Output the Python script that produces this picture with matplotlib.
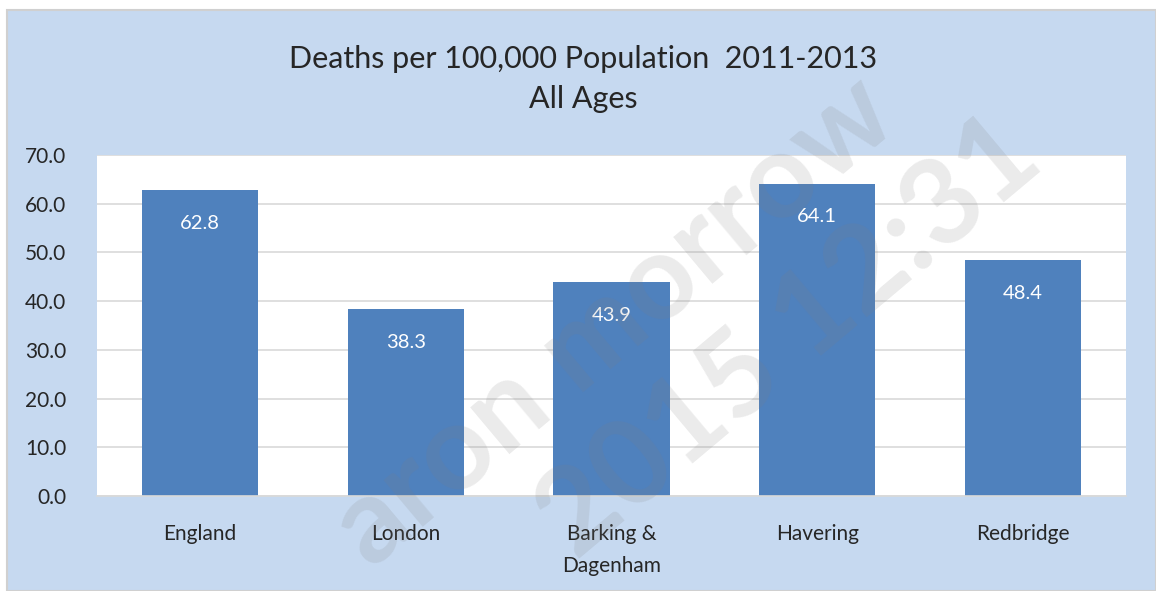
import matplotlib
matplotlib.use("Agg")
import matplotlib.pyplot as plt
from matplotlib.patches import Rectangle

# Data
areas = ["England", "London", "Barking &\nDagenham", "Havering", "Redbridge"]
deaths = [62.8, 38.3, 43.9, 64.1, 48.4]
yticks = [0, 10, 20, 30, 40, 50, 60, 70]

title = "Deaths per 100,000 Population  2011-2013\nAll Ages"

plt.rcParams["font.family"] = ["Lato", "DejaVu Sans"]

W, H = 1156, 591
fig = plt.figure(figsize=(W / 100, H / 100), dpi=100)
fig.patch.set_facecolor("white")

# chart area background
fig.patches.append(Rectangle((7 / W, 0), 1 - 7 / W, (H - 10) / H,
                             transform=fig.transFigure, facecolor="#C6D9F0",
                             edgecolor="#D0D0D0", lw=1.5, zorder=-10))

ax = fig.add_axes([97 / W, 1 - 496 / H, (1126 - 97) / W, (496 - 155) / H])
ax.set_facecolor("white")

x = range(len(areas))
bars = ax.bar(x, deaths, width=0.565, color="#4F81BD", zorder=2)
ax.bar_label(bars, fmt="%.1f", padding=-30, color="white", fontsize=14.5)

ax.set_ylim(0, 70)
ax.set_xlim(-0.5, len(areas) - 0.5)
ax.set_yticks(yticks)
ax.set_yticklabels([f"{v:.1f}" for v in yticks])
ax.set_xticks(list(x))
ax.set_xticklabels(areas, linespacing=1.75)
ax.yaxis.grid(True, color="#D9D9D9", lw=1.2, zorder=0)
ax.set_axisbelow(True)
for side in ["top", "right", "left"]:
    ax.spines[side].set_visible(False)
ax.spines["bottom"].set_color("#D9D9D9")
ax.spines["bottom"].set_linewidth(1.2)
ax.tick_params(axis="both", length=0, labelsize=15, colors="#262626")
ax.tick_params(axis="y", pad=22)
ax.tick_params(axis="x", pad=20)

fig.text(583 / W, 1 - 79 / H, title, ha="center", va="center",
         fontsize=22, color="#262626", linespacing=1.5)

# diagonal watermark
fig.text(615 / W, 1 - 322 / H, "aron morrow", ha="center", va="center",
         rotation=40, fontsize=86, fontweight="bold", color="#808080",
         alpha=0.16, zorder=10)
fig.text(790 / W, 1 - 338 / H, "2015 12:31", ha="center", va="center",
         rotation=40, fontsize=86, fontweight="bold", color="#808080",
         alpha=0.16, zorder=10)

fig.savefig("out.png", dpi=100)
